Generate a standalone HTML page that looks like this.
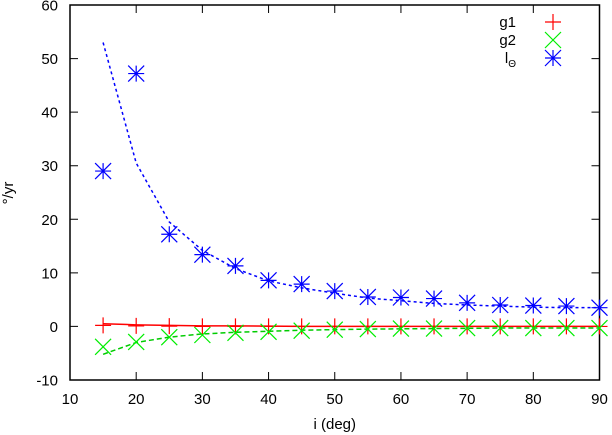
<!DOCTYPE html>
<html><head><meta charset="utf-8"><style>
html,body{margin:0;padding:0;background:#fff;}
svg{display:block;font-family:"Liberation Sans",sans-serif;}
</style></head><body>
<svg id="chart" width="612" height="435" viewBox="0 0 612 435"></svg>
<script>
const xs=[15,20,25,30,35,40,45,50,55,60,65,70,75,80,85,90];
const g1Pts=[0.2,0.1,0.05,0,0,0,0,0,0,0,0,0,0,0,0,0];
const g1Line=[0.5,0.3,0.2,0.1,0.1,0.05,0,0,0,0,0,0,0,0,0,0];
const g2Pts=[-3.8,-2.9,-2.0,-1.6,-1.2,-1.0,-0.8,-0.6,-0.5,-0.4,-0.4,-0.3,-0.3,-0.3,-0.3,-0.3];
const g2Line=[-5.2,-3.0,-2.0,-1.4,-1.1,-0.9,-0.7,-0.6,-0.5,-0.45,-0.4,-0.35,-0.3,-0.3,-0.3,-0.3];
const lPts=[29,47.2,17.2,13.4,11.3,8.6,7.9,6.6,5.5,5.4,5.2,4.4,4.0,3.9,3.8,3.5];
const lLine=[53,30.5,19.5,14.2,10.8,8.5,7.2,6.2,5.3,4.8,4.3,4.0,3.8,3.6,3.5,3.5];
const xTicks=[10,20,30,40,50,60,70,80,90];
const yTicks=[-10,0,10,20,30,40,50,60];
const L=70,R=599.5,T=5,B=380;
const X=v=>L+(v-10)/80*(R-L);
const Y=v=>B-(v+10)/70*(B-T);
const svg=document.getElementById('chart');
const NS='http://www.w3.org/2000/svg';
function mk(tag,attrs,parent){const e=document.createElementNS(NS,tag);for(const k in attrs)e.setAttribute(k,attrs[k]);(parent||svg).appendChild(e);return e;}
xTicks.forEach(v=>{
 const t=mk('path',{d:`M${X(v)},${B}v-8M${X(v)},${T}v8`,stroke:'#000','stroke-width':1});
 
 
 const tx=mk('text',{x:X(v),y:404,'text-anchor':'middle','font-size':15});
 tx.textContent=v;
 
 
});
yTicks.forEach(v=>{
 const t=mk('path',{d:`M${L},${Y(v)}h8M${R},${Y(v)}h-8`,stroke:'#000','stroke-width':1});
 
 
 const tx=mk('text',{x:58,y:Y(v)+5.5,'text-anchor':'end','font-size':15});
 tx.textContent=v;
 
 
});
const fr=mk('rect',{x:L,y:T,width:R-L,height:B-T,fill:'none',stroke:'#000','stroke-width':1.5});


const xl=mk('text',{x:(L+R)/2,y:429,'text-anchor':'middle','font-size':15});
xl.textContent='i (deg)';


const yl=mk('text',{x:0,y:0,'text-anchor':'middle','font-size':15,transform:'translate(13,193) rotate(-90)'});
yl.textContent='°/yr';


function line(vals,color,dash,name){
 const p=mk('polyline',{points:xs.map((x,i)=>X(x)+','+Y(vals[i])).join(' '),fill:'none',stroke:color,'stroke-width':1.5,'stroke-dasharray':dash});
 
 
}
function marker(cx,cy,type,color,name){
 let d='';const s=8;
 if(type==='plus')d=`M${cx-s},${cy}h${2*s}M${cx},${cy-s}v${2*s}`;
 else if(type==='x')d=`M${cx-s},${cy-s}l${2*s},${2*s}M${cx-s},${cy+s}l${2*s},${-2*s}`;
 else d=`M${cx-s},${cy}h${2*s}M${cx},${cy-s}v${2*s}M${cx-s},${cy-s}l${2*s},${2*s}M${cx-s},${cy+s}l${2*s},${-2*s}`;
 const p=mk('path',{d:d,stroke:color,'stroke-width':1.2,fill:'none'});
 
 
}
line(g1Line,'#f00','','g1-line');
line(g2Line,'#0c0','5,3','g2-line');
line(lLine,'#00f','3,3','l-theta-line');
xs.forEach((x,i)=>{
 marker(X(x),Y(g1Pts[i]),'plus','#f00','g1-point');
 marker(X(x),Y(g2Pts[i]),'x','#0e0','g2-point');
 marker(X(x),Y(lPts[i]),'star','#00f','l-theta-point');
});
const lg=mk('g',{});


[['g1','plus','#f00',22],['g2','x','#0e0',40],['l','star','#00f',58]].forEach(([t,ty,c,y])=>{
 const tx=mk('text',{x:516,y:y+5,'text-anchor':'end','font-size':15},lg);
 tx.textContent=t;
 if(t==='l'){const sub=mk('tspan',{'font-size':10,dy:4},tx);sub.textContent='Θ';}
 
 
 marker(553,y,ty,c,'legend-marker');
});
</script>
</body></html>
